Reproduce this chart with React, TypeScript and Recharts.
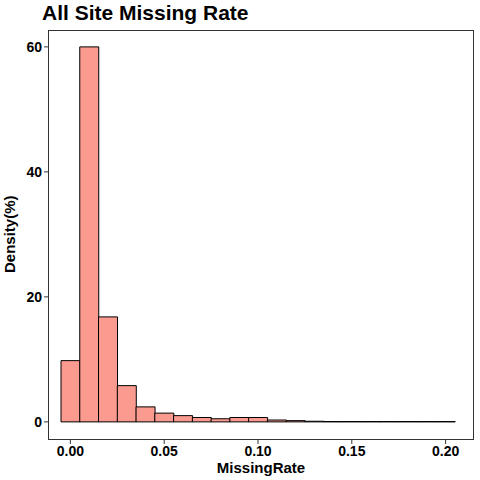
import { BarChart, Bar, XAxis, YAxis } from 'recharts';

const bins = ['0.00', '0.01', '0.02', '0.03', '0.04', '0.05', '0.06', '0.07', '0.08', '0.09', '0.10',
  '0.11', '0.12', '0.13', '0.14', '0.15', '0.16', '0.17', '0.18', '0.19', '0.20'];
const density = [9.8, 60, 16.8, 5.8, 2.4, 1.4, 1.0, 0.7, 0.5, 0.7, 0.7,
  0.3, 0.2, 0.1, 0.05, 0.05, 0.05, 0.05, 0.05, 0.05, 0.05];
const yTicks = [0, 20, 40, 60];

const data = bins.map((b, i) => ({ bin: b, density: density[i] }));
const font = { fontFamily: 'Liberation Sans, Arial, sans-serif' };

export default function App() {
  return (
    <div style={{ position: 'absolute', left: 0, top: 0, width: 480, height: 480, background: '#fff', ...font }}>
      <div style={{ position: 'absolute', left: 42, top: 1, fontSize: 21, fontWeight: 'bold', color: '#000' }}>
        All Site Missing Rate
      </div>
      <BarChart width={480} height={480} data={data} barCategoryGap={0}
        margin={{ top: 30, right: 6, bottom: 0, left: 0 }}>
        <XAxis dataKey="bin" interval={4} height={40} padding={{ left: 13, right: 19 }}
          axisLine={false} tickLine={{ stroke: '#333' }} tickSize={4}
          tick={{ fill: '#000', fontSize: 14, fontWeight: 'bold' }}
          label={{ value: 'MissingRate', position: 'insideBottom', offset: 7, fill: '#000', fontSize: 15, fontWeight: 'bold' }} />
        <YAxis type="number" domain={[-2.9, 62.7]} ticks={yTicks} width={48} axisLine={false}
          tickLine={{ stroke: '#333' }} tickSize={4} allowDataOverflow
          tick={{ fill: '#000', fontSize: 14, fontWeight: 'bold' }}
          label={{ value: 'Density(%)', angle: -90, position: 'insideLeft', offset: 10, dy: 38, fill: '#000', fontSize: 15, fontWeight: 'bold' }} />
        <Bar dataKey="density" fill="#fb9a8f" stroke="#000" strokeWidth={1} isAnimationActive={false} />
      </BarChart>
      <div style={{ position: 'absolute', left: 48, top: 30, width: 426, height: 410, border: '1px solid #333', boxSizing: 'border-box', pointerEvents: 'none' }} />
    </div>
  );
}
